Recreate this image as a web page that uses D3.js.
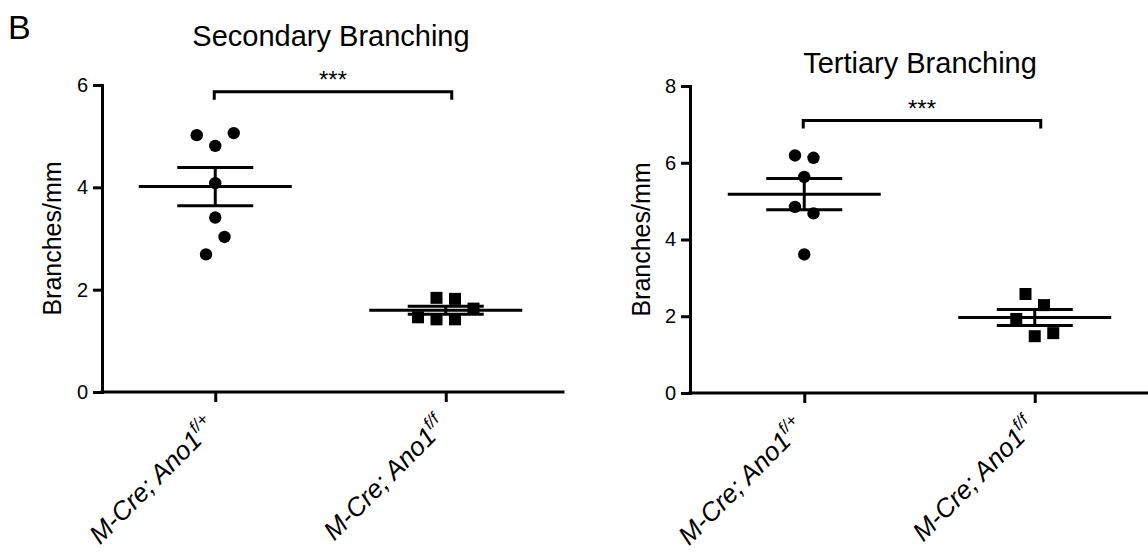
<!DOCTYPE html>
<html>
<head>
<meta charset="utf-8">
<script src="https://cdn.jsdelivr.net/npm/d3@7"></script>
<style>
  body { margin: 0; background: #fff; }
  svg text { font-family: "Liberation Sans", Arial, sans-serif; fill: #000; }
</style>
</head>
<body>
<svg id="chart" width="1148" height="552"></svg>
<script>
// data
const categories = ["M-Cre; Ano1", "M-Cre; Ano1"];
const genotypes = ["f/+", "f/f"];
const titles = ["Secondary Branching", "Tertiary Branching"];
const yLabel = "Branches/mm";
const secondaryControl = [5.02, 4.81, 5.06, 4.08, 3.41, 2.69, 3.03];
const secondaryKnockout = [1.84, 1.82, 1.63, 1.46, 1.42, 1.42];
const tertiaryControl = [6.19, 6.13, 5.63, 4.85, 4.68, 3.61];
const tertiaryKnockout = [2.58, 2.29, 1.93, 1.48, 1.56];
const secondaryTicks = [0, 2, 4, 6];
const tertiaryTicks = [0, 2, 4, 6, 8];
const significance = ["***", "***"];
const bracketLevels = [5.87, 7.1];

const svg = d3.select("#chart");

svg.append("text").attr("x", 8).attr("y", 39)
  .style("font-size", "34px").text("B");

// horizontal placement of points, roughly the way Prism spreads a column scatter
function dodge(values, y, step, rowGap, hitGap) {
  const order = d3.range(values.length).sort((a, b) => values[b] - values[a] || a - b);
  const rows = [];
  order.forEach(i => {
    const py = y(values[i]);
    const row = rows[rows.length - 1];
    if (row && py - row.top < rowGap) row.items.push(i);
    else rows.push({ top: py, items: [i] });
  });
  const off = new Array(values.length);
  const placed = [];
  const shifts = [0, -0.5, 0.5, -1, 1, -1.5, 1.5, -2, 2];
  rows.forEach(row => {
    row.items.sort((a, b) => a - b);
    const n = row.items.length;
    const base = row.items.map((i, k) => (k - (n - 1) / 2) * step);
    const hits = sh => row.items.some((i, k) => placed.some(p =>
      Math.abs(p.dx - (base[k] + sh)) < step - 0.5 && Math.abs(p.y - y(values[i])) < hitGap));
    const s = shifts.map(v => v * step).find(v => !hits(v)) || 0;
    row.items.forEach((i, k) => {
      off[i] = base[k] + s;
      placed.push({ dx: off[i], y: y(values[i]) });
    });
  });
  const [lo, hi] = d3.extent(off);
  const c = (lo + hi) / 2;
  return off.map(o => o - c);
}

function drawPanel(cfg, groups, ticks, title, level, sig) {
  const g = svg.append("g");
  const x = d3.scalePoint().domain([0, 1]).range(cfg.catRange).padding(0.5);
  const y = d3.scaleLinear().domain([0, d3.max(ticks)]).range(cfg.yRange);

  // title
  g.append("text").attr("x", cfg.titleX).attr("y", cfg.titleY)
    .attr("text-anchor", "middle").style("font-size", "29px").text(title);

  // y axis
  const ya = g.append("g").attr("transform", `translate(${cfg.x0},0)`)
    .call(d3.axisLeft(y).tickValues(ticks).tickFormat(d3.format("d"))
      .tickSize(9).tickSizeOuter(0).tickPadding(5));
  ya.select(".domain").attr("stroke-width", 3).attr("stroke-linecap", "square");
  ya.selectAll(".tick line").attr("stroke-width", 3);
  ya.selectAll(".tick text")
    .style("font-size", "20px")
    .style("font-family", '"Liberation Sans", Arial, sans-serif');

  g.append("text")
    .attr("transform", `translate(${cfg.yLabelX},${(cfg.yRange[0] + cfg.yRange[1]) / 2}) rotate(-90)`)
    .attr("text-anchor", "middle").style("font-size", "25px").text(yLabel);

  // x axis
  const xa = g.append("g").attr("transform", `translate(0,${y(0)})`)
    .call(d3.axisBottom(x).tickSize(10).tickSizeOuter(0).tickFormat(""));
  xa.select(".domain").remove();
  xa.selectAll(".tick line").attr("stroke-width", 3);
  g.append("line")
    .attr("x1", cfg.x0).attr("x2", cfg.x1)
    .attr("y1", y(0)).attr("y2", y(0))
    .attr("stroke", "#000").attr("stroke-width", 3).attr("stroke-linecap", "square");

  const lab = g.selectAll(".xlab").data(categories).join("text")
    .attr("class", "xlab")
    .attr("transform", (d, i) => `translate(${x(i) + 2},${y(0) + 36}) rotate(-45)`)
    .attr("text-anchor", "end")
    .style("font-size", "26px")
    .style("font-style", "italic");
  lab.append("tspan").text(d => d);
  lab.append("tspan").attr("dy", -11).style("font-size", "17px").text((d, i) => genotypes[i]);

  // points, mean and SEM
  groups.forEach((vals, i) => {
    const cx = x(i);
    const offs = dodge(vals, y, 18.5, 18, 14);
    if (i === 0) {
      g.selectAll(null).data(vals).join("circle")
        .attr("cx", (d, k) => cx + offs[k]).attr("cy", d => y(d))
        .attr("r", 6.2).attr("fill", "#000");
    } else {
      g.selectAll(null).data(vals).join("rect")
        .attr("x", (d, k) => cx + offs[k] - 6).attr("y", d => y(d) - 6)
        .attr("width", 12).attr("height", 12).attr("fill", "#000");
    }
    const m = d3.mean(vals);
    const sem = d3.deviation(vals) / Math.sqrt(vals.length);
    const line = (x1, x2, y1, y2) => g.append("line")
      .attr("x1", x1).attr("x2", x2).attr("y1", y1).attr("y2", y2)
      .attr("stroke", "#000").attr("stroke-width", 3);
    line(cx - 76.5, cx + 76.5, y(m), y(m));
    line(cx - 38, cx + 38, y(m + sem), y(m + sem));
    line(cx - 38, cx + 38, y(m - sem), y(m - sem));
    line(cx, cx, y(m + sem), y(m - sem));
  });

  // significance bracket
  const by = y(level);
  const bx1 = x(0) - 1, bx2 = x(1) + 6;
  g.append("path")
    .attr("d", `M${bx1},${by + 8}V${by}H${bx2}V${by + 8}`)
    .attr("fill", "none").attr("stroke", "#000").attr("stroke-width", 3);
  g.append("text").attr("x", (bx1 + bx2) / 2).attr("y", by - 4)
    .attr("text-anchor", "middle").style("font-size", "24px").text(sig);
}

drawPanel({ x0: 102, x1: 563, catRange: [100, 561], yRange: [392, 85], titleX: 331, titleY: 46, yLabelX: 61 },
  [secondaryControl, secondaryKnockout], secondaryTicks, titles[0], bracketLevels[0], significance[0]);

drawPanel({ x0: 690, x1: 1150, catRange: [689, 1150], yRange: [393, 86], titleX: 920, titleY: 73, yLabelX: 650 },
  [tertiaryControl, tertiaryKnockout], tertiaryTicks, titles[1], bracketLevels[1], significance[1]);
</script>
</body>
</html>
